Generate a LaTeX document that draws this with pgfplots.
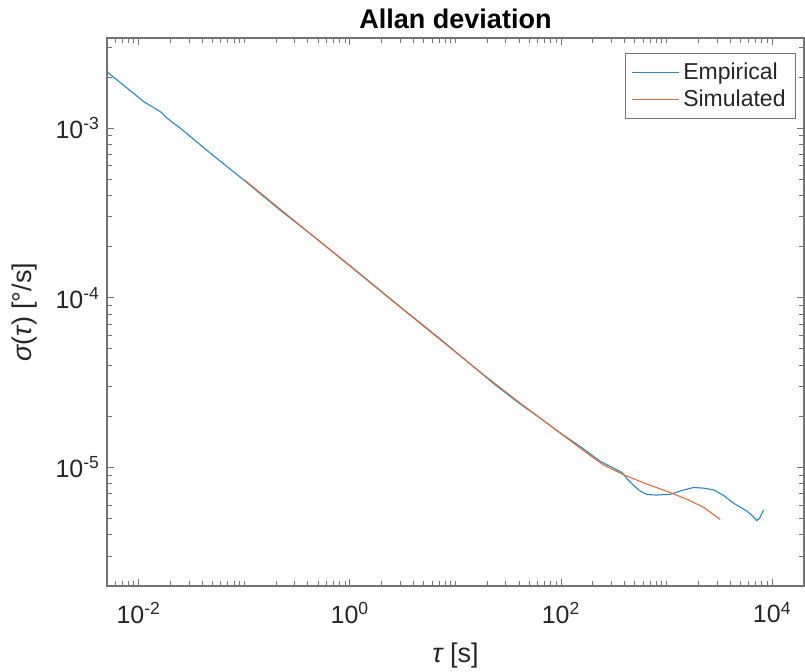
\documentclass[border=0pt]{standalone}
\usepackage{fontspec}
\setmainfont{Liberation Sans}
\usepackage{pgfplots}
\pgfplotsset{compat=1.18}
\definecolor{mblue}{rgb}{0,0.447,0.741}
\definecolor{morange}{rgb}{0.85,0.325,0.098}
\pgfplotstableread{
tau sigma
0.005 2.148e-3
0.01122 1.429e-3
0.01614 1.247e-3
0.01871 1.140e-3
0.02495 9.954e-4
0.04797 7.096e-4
0.09931 4.932e-4
0.2056 3.388e-4
0.5012 2.188e-4
1 1.549e-4
3.162 8.610e-5
7.211 5.702e-5
23.01 3.119e-5
39.81 2.399e-5
63.68 1.950e-5
100 1.585e-5
158.5 1.303e-5
235.5 1.084e-5
316.2 9.886e-6
377.6 9.333e-6
426.6 8.511e-6
486.4 7.834e-6
562.3 7.244e-6
651.6 6.934e-6
794.3 6.871e-6
1084 6.950e-6
1413 7.328e-6
1799 7.621e-6
2239 7.551e-6
2780 7.379e-6
3467 6.839e-6
4305 6.152e-6
5012 5.821e-6
5754 5.534e-6
6607 5.129e-6
7129 4.864e-6
7586 5.012e-6
8279 5.610e-6
}\empirical
\pgfplotstableread{
tau sigma
0.1 4.955e-4
0.3162 2.761e-4
1 1.538e-4
3.162 8.570e-5
10 4.786e-5
19.95 3.388e-5
39.81 2.427e-5
79.43 1.758e-5
158.5 1.274e-5
251.2 1.035e-5
398.1 9.016e-6
631.0 8.035e-6
1000 7.244e-6
1585 6.457e-6
2239 5.821e-6
3221 4.932e-6
}\simulated
\begin{document}
\begin{tikzpicture}
\useasboundingbox (-53.5pt,-42.5pt) rectangle (349pt,293pt);
\begin{axis}[
  xmode=log, ymode=log,
  scale only axis, width=348.5pt, height=274pt,
  at={(0,0)}, anchor=south west,
  xmin=5e-3, xmax=2e4, ymin=2e-6, ymax=3.4e-3,
  xtick={1e-2,1,1e2,1e4},
  xticklabels={10\textsuperscript{-2},10\textsuperscript{0},10\textsuperscript{2},10\textsuperscript{4}},
  ytick={1e-5,1e-4,1e-3},
  yticklabels={10\textsuperscript{-5},10\textsuperscript{-4},10\textsuperscript{-3}},
  minor xtick={0.006,0.007,0.008,0.009,0.02,0.03,0.04,0.05,0.06,0.07,0.08,0.09,0.1,0.2,0.3,0.4,0.5,0.6,0.7,0.8,0.9,2,3,4,5,6,7,8,9,10,20,30,40,50,60,70,80,90,200,300,400,500,600,700,800,900,1000,2000,3000,4000,5000,6000,7000,8000,9000},
  minor ytick={3e-6,4e-6,5e-6,6e-6,7e-6,8e-6,9e-6,2e-5,3e-5,4e-5,5e-5,6e-5,7e-5,8e-5,9e-5,2e-4,3e-4,4e-4,5e-4,6e-4,7e-4,8e-4,9e-4,2e-3,3e-3},
  tick align=inside,
  major tick length=3.5pt, minor tick length=2.5pt,
  axis line style={black!55, line width=0.6pt},
  tick style={black!55, line width=0.5pt},
  ticklabel style={font=\fontsize{12.5}{15}\selectfont, text=black!85},
  xticklabel style={yshift=-4.5pt},
  every axis title shift=0pt,
  title={Allan deviation},
  title style={font=\bfseries\fontsize{13.5}{16}\selectfont, at={(axis description cs:0.5,1)}, anchor=base, yshift=5pt},
  xlabel={{\itshape τ} [s]},
  xlabel style={font=\fontsize{13.5}{16}\selectfont, text=black!85, at={(axis description cs:0.5,0)}, anchor=base, yshift=-38pt},
  ylabel={{\itshape σ}({\itshape τ}) [°/s]},
  ylabel style={font=\fontsize{13.5}{16}\selectfont, text=black!85, at={(axis description cs:-0.1076,0.5)}, anchor=base},
  legend style={at={(0.9885,0.9726)}, anchor=north east, draw=black!55, fill=white, font=\fontsize{11.5}{14}\selectfont, text=black!85, inner xsep=3pt, inner ysep=2.5pt, row sep=0pt},
  legend cell align=left,
  legend image code/.code={\draw[#1] (0pt,0pt) -- (23.5pt,0pt);},
]
\addplot[mblue!85!white, line width=0.55pt] table[x=tau, y=sigma] {\empirical};
\addlegendentry{Empirical}
\addplot[morange!85!white, line width=0.55pt] table[x=tau, y=sigma] {\simulated};
\addlegendentry{Simulated}
\end{axis}
\end{tikzpicture}
\end{document}
